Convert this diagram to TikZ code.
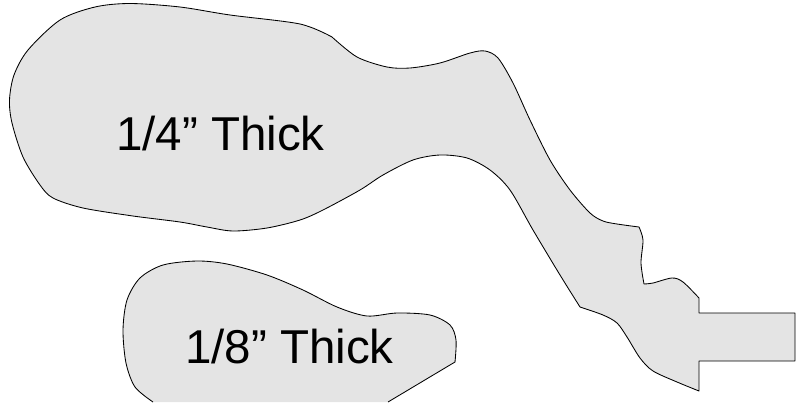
\documentclass[tikz,border=0pt]{standalone}
\usepackage{fontspec}
\setmainfont{Liberation Sans}
\tikzset{
  partshape/.style={fill=partgray,draw=black,line width=0.85pt,line join=round},
  partlabel/.style={font=\fontsize{47.5}{48}\selectfont,text=black,inner sep=0pt,anchor=base}
}
\definecolor{partgray}{HTML}{E4E4E4}
\begin{document}
\begin{tikzpicture}[x=1pt,y=-1pt]
\useasboundingbox (0,0) rectangle (808,402);
\path[partshape]
  plot[smooth,tension=0.5] coordinates {(332,37)(357,57)(387,67)(410,68)(440,63)(470,53)(485,51)(498,58)(513,83)(530,120)(550,160)(570,190)(590,213)(603,221)(617,224)(639,227)}
  -- plot[smooth,tension=0.5] coordinates {(639,227)(643,240)(641,263)(644,284)}
  -- plot[smooth,tension=0.5] coordinates {(644,284)(653,283)(672,278)(683,282)(699,298)}
  -- (699,313) -- (795,313) -- (795,361) -- (699,361) -- (699,391)
  -- plot[smooth,tension=0.5] coordinates {(699,391)(677,382)(653,371)(640,358)(627,337)(617,323)(603,315)(580,307)}
  -- plot[smooth,tension=0.5] coordinates {(580,307)(560,275)(533,230)(510,190)(490,170)(467,158)(440,155)(413,160)(383,175)(360,190)(323,210)(300,220)(267,228)(233,231)(207,227)(180,222)(133,216)(83,208)(53,198)(40,185)(23,157)(12,123)(9.5,100)(14,75)(28,50)(60,20)(95,7)(130,3.5)(180,7)(230,15)(300,24)(332,37)}
  -- cycle;
\fill[partgray] plot[smooth,tension=0.5] coordinates {(153,402)(135,387)(126,363)(123,330)(127,300)(140,278)(163,265)(197,261)(227,264)(267,275)(303,290)(337,307)(367,316)(397,313)(430,315)(450,325)(456,340)(455,362)} -- (388,402) -- cycle;
\draw[black,line width=0.85pt,line join=round] plot[smooth,tension=0.5] coordinates {(153,402)(135,387)(126,363)(123,330)(127,300)(140,278)(163,265)(197,261)(227,264)(267,275)(303,290)(337,307)(367,316)(397,313)(430,315)(450,325)(456,340)(455,362)} -- (388,402);
\node[partlabel] (thickquarter) at (220.5,150) {1/4” Thick};
\node[partlabel] (thickeighth) at (289.3,363) {1/8” Thick};
\end{tikzpicture}
\end{document}
